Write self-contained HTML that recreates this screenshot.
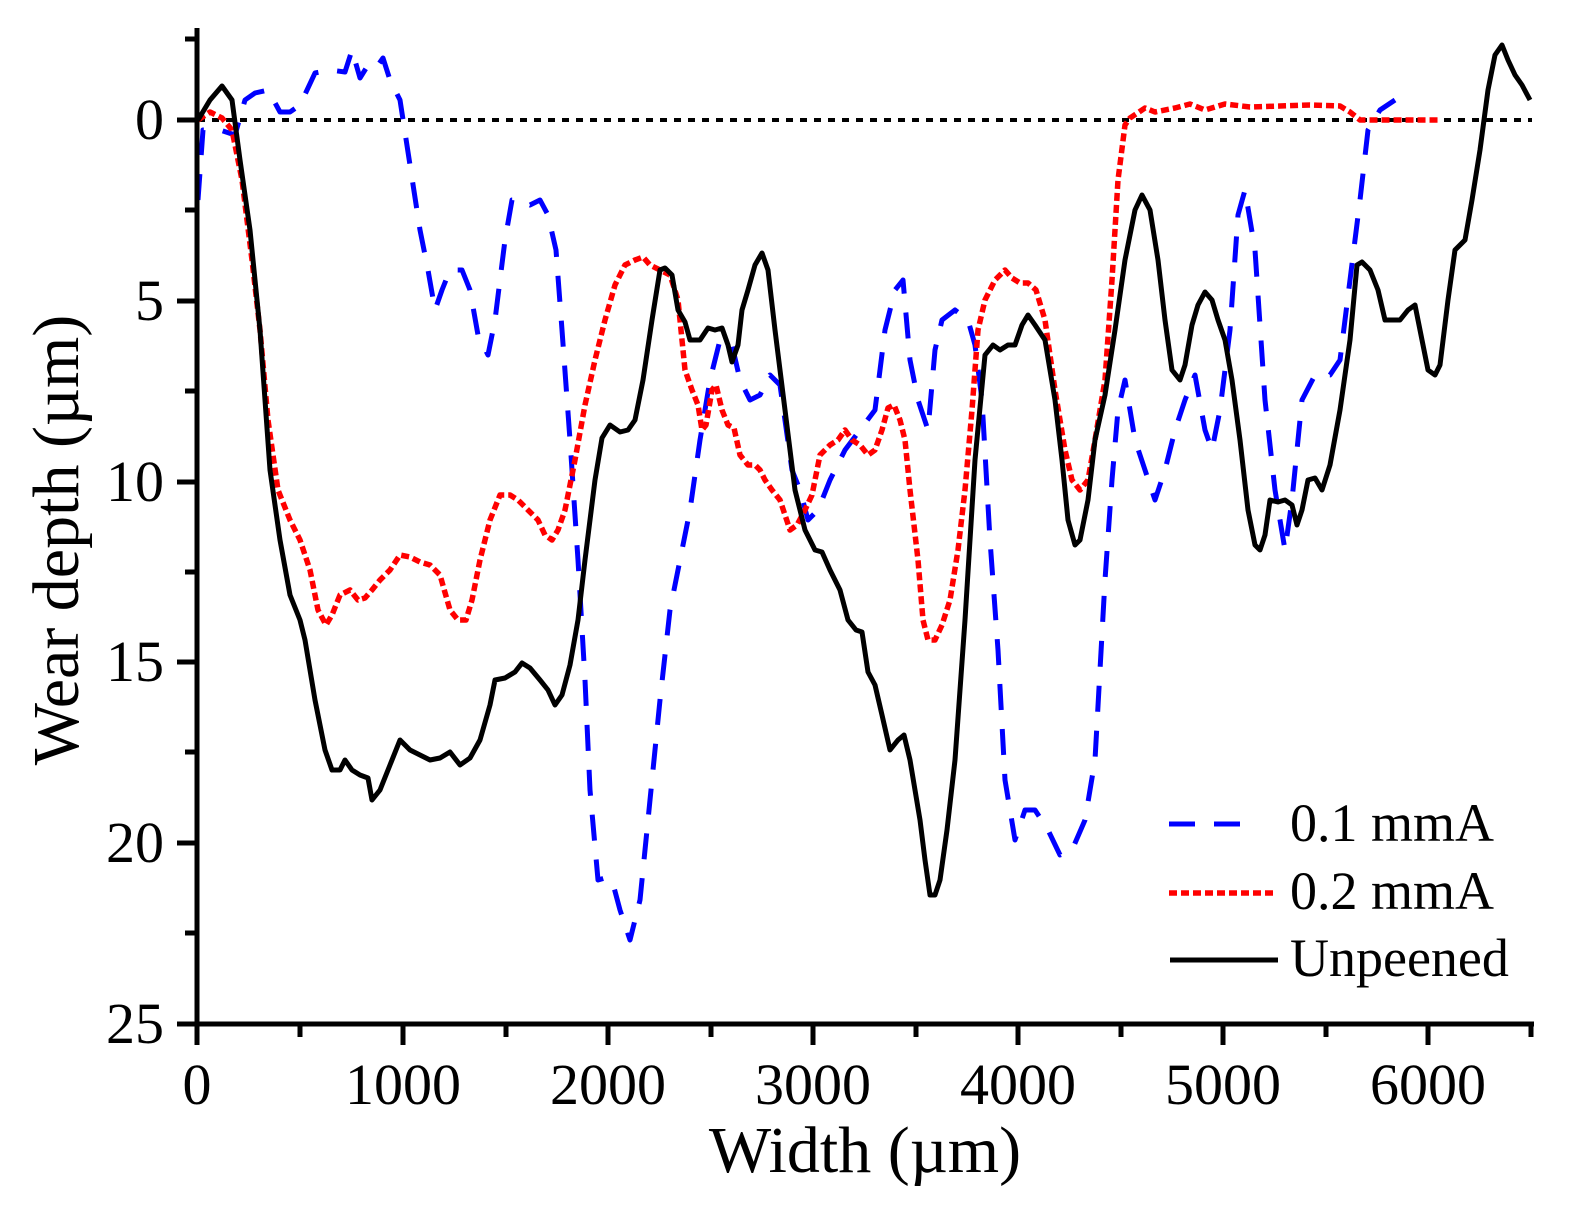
<!DOCTYPE html>
<html><head><meta charset="utf-8"><style>
html,body{margin:0;padding:0;background:#fff;}
svg{display:block;}
text{font-family:"Liberation Serif",serif;fill:#000;}
</style></head><body>
<svg width="1572" height="1208" viewBox="0 0 1572 1208" xmlns="http://www.w3.org/2000/svg">
<line x1="198" y1="120" x2="1532" y2="120" stroke="#000" stroke-width="4" stroke-dasharray="7,7"/>
<polyline fill="none" stroke="#0000ff" stroke-width="5" stroke-dasharray="26,19" stroke-linejoin="round" points="198,200 203,130 220,130 235,135 245,100 255,93 268,90 280,112 290,112 300,105 315,73 330,70 345,72 352,50 360,78 370,62 378,65 383,58 390,80 400,100 410,165 420,230 428,270 435,310 442,290 450,270 462,270 470,290 478,335 488,355 495,320 505,240 512,200 520,200 530,205 540,200 548,215 556,250 562,330 570,440 578,560 585,680 590,790 598,880 605,878 612,880 620,910 630,940 640,900 650,800 660,700 670,610 680,560 690,510 700,440 710,380 720,340 732,345 740,380 750,400 760,395 770,375 780,385 792,470 800,490 808,520 818,510 830,480 845,450 860,430 875,410 885,330 895,290 903,280 910,360 918,400 928,430 935,350 942,320 955,310 968,320 975,345 982,400 990,540 998,650 1005,780 1015,840 1025,810 1035,810 1048,830 1060,855 1072,850 1085,820 1095,760 1105,580 1112,480 1118,410 1125,380 1135,440 1145,470 1155,500 1165,470 1175,430 1185,400 1195,375 1205,430 1212,450 1220,410 1230,330 1238,215 1245,190 1255,250 1265,400 1275,490 1285,550 1292,500 1302,400 1315,375 1330,375 1340,360 1350,280 1360,200 1368,130 1380,110 1395,100"/>
<polyline fill="none" stroke="#ff0000" stroke-width="5.5" stroke-dasharray="8,4" stroke-linejoin="round" points="198,120 210,112 222,118 232,130 242,180 252,260 260,330 268,420 278,490 290,520 300,540 310,570 318,610 326,625 332,615 340,595 350,590 358,600 365,598 372,590 380,580 390,570 400,555 410,557 420,562 430,565 440,575 450,610 458,620 466,620 472,600 480,560 490,520 500,495 510,495 518,500 528,510 538,520 545,535 552,540 558,530 565,510 575,460 585,405 595,360 605,320 615,285 625,265 635,260 643,257 650,265 660,270 670,275 678,300 685,370 692,390 698,405 702,430 706,425 712,390 716,385 722,410 728,425 734,428 740,455 748,465 755,465 760,470 765,480 772,490 780,500 785,515 790,530 797,525 805,510 812,495 820,455 830,445 838,440 845,430 852,440 860,445 868,455 875,450 882,430 888,408 894,405 900,420 905,440 910,490 918,560 923,620 928,640 935,640 942,625 950,600 958,550 965,490 972,410 978,330 985,300 995,280 1005,270 1012,278 1020,283 1028,283 1036,290 1045,320 1055,390 1065,450 1072,480 1080,490 1088,480 1095,440 1105,380 1112,280 1118,180 1125,125 1130,118 1145,108 1155,112 1175,108 1190,104 1205,110 1225,104 1250,107 1280,106 1310,105 1340,106 1350,112 1360,120 1438,120"/>
<polyline fill="none" stroke="#000" stroke-width="5" stroke-linejoin="round" points="198,120 210,100 222,86 232,100 240,160 250,230 260,330 270,470 280,540 290,595 300,620 305,640 315,700 325,750 332,770 340,770 345,760 352,770 360,775 368,778 372,800 380,790 390,765 400,740 410,750 420,755 430,760 440,758 450,752 460,765 470,758 480,740 490,705 495,680 505,678 515,672 522,663 530,668 540,680 548,690 555,705 562,695 570,665 578,620 585,560 595,480 602,438 610,425 620,432 628,430 635,420 643,380 652,320 660,270 665,268 672,275 678,310 685,322 690,340 700,340 708,328 715,330 722,328 728,345 732,362 738,345 742,310 748,290 755,265 762,253 768,270 775,330 785,410 795,490 805,530 815,550 822,552 830,570 840,590 848,620 856,630 862,632 868,672 875,685 882,715 890,750 898,740 904,735 910,760 915,790 920,820 925,860 930,895 935,895 940,880 947,830 955,760 965,620 975,460 985,355 993,345 1000,350 1008,345 1015,345 1022,325 1028,315 1035,325 1045,340 1055,400 1062,460 1068,520 1075,545 1080,540 1088,500 1095,440 1105,395 1115,330 1125,260 1135,210 1142,195 1150,210 1158,260 1165,320 1172,370 1180,380 1185,365 1192,325 1198,305 1205,292 1212,300 1218,320 1225,340 1232,380 1240,440 1248,510 1255,545 1260,550 1265,535 1270,500 1278,502 1285,500 1292,505 1297,525 1302,510 1308,480 1315,478 1322,490 1330,465 1340,410 1350,340 1357,265 1362,262 1370,270 1378,290 1385,320 1392,320 1400,320 1408,310 1415,305 1420,330 1428,370 1435,375 1440,365 1448,300 1455,250 1465,240 1472,200 1480,150 1488,90 1495,55 1502,45 1508,60 1515,75 1522,85 1530,100"/>
<g stroke="#000" stroke-width="5" fill="none">
<line x1="197" y1="28" x2="197" y2="1026"/>
<line x1="195" y1="1024" x2="1534" y2="1024"/>
<line x1="197" y1="1024" x2="197" y2="1045"/>
<line x1="403" y1="1024" x2="403" y2="1045"/>
<line x1="608" y1="1024" x2="608" y2="1045"/>
<line x1="813" y1="1024" x2="813" y2="1045"/>
<line x1="1018" y1="1024" x2="1018" y2="1045"/>
<line x1="1223" y1="1024" x2="1223" y2="1045"/>
<line x1="1428" y1="1024" x2="1428" y2="1045"/>
<line x1="300" y1="1024" x2="300" y2="1037"/>
<line x1="506" y1="1024" x2="506" y2="1037"/>
<line x1="711" y1="1024" x2="711" y2="1037"/>
<line x1="916" y1="1024" x2="916" y2="1037"/>
<line x1="1121" y1="1024" x2="1121" y2="1037"/>
<line x1="1326" y1="1024" x2="1326" y2="1037"/>
<line x1="1531" y1="1024" x2="1531" y2="1037"/>
<line x1="177" y1="1024" x2="197" y2="1024"/>
<line x1="177" y1="843" x2="197" y2="843"/>
<line x1="177" y1="662" x2="197" y2="662"/>
<line x1="177" y1="482" x2="197" y2="482"/>
<line x1="177" y1="301" x2="197" y2="301"/>
<line x1="177" y1="120" x2="197" y2="120"/>
<line x1="185" y1="933" x2="197" y2="933"/>
<line x1="185" y1="752" x2="197" y2="752"/>
<line x1="185" y1="572" x2="197" y2="572"/>
<line x1="185" y1="391" x2="197" y2="391"/>
<line x1="185" y1="210" x2="197" y2="210"/>
<line x1="185" y1="39" x2="197" y2="39"/>
</g>
<g font-size="58" text-anchor="middle">
<text x="197" y="1104">0</text><text x="403" y="1104">1000</text><text x="608" y="1104">2000</text><text x="813" y="1104">3000</text><text x="1018" y="1104">4000</text><text x="1223" y="1104">5000</text><text x="1428" y="1104">6000</text>
</g>
<g font-size="58" text-anchor="end">
<text x="164" y="1043">25</text><text x="164" y="862">20</text><text x="164" y="681">15</text><text x="164" y="501">10</text><text x="164" y="320">5</text><text x="164" y="139">0</text>
</g>
<text x="865" y="1172" font-size="66" text-anchor="middle">Width (µm)</text>
<text transform="translate(78,540) rotate(-90)" font-size="66" text-anchor="middle">Wear depth (µm)</text>
<line x1="1169" y1="824" x2="1240" y2="824" stroke="#0000ff" stroke-width="5" stroke-dasharray="26,19"/>
<line x1="1169" y1="893" x2="1276" y2="893" stroke="#ff0000" stroke-width="5.5" stroke-dasharray="8,4"/>
<line x1="1170" y1="960" x2="1278" y2="960" stroke="#000" stroke-width="5"/>
<g font-size="54">
<text x="1290" y="841">0.1 mmA</text>
<text x="1290" y="909">0.2 mmA</text>
<text x="1290" y="976">Unpeened</text>
</g>
</svg>
</body></html>
